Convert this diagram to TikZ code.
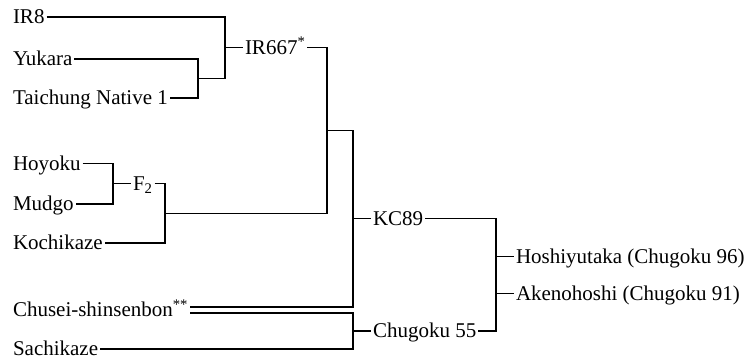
\documentclass[tikz,border=0pt]{standalone}
\usepackage{fontspec}
\setmainfont{Liberation Serif}
\usetikzlibrary{positioning}

\begin{document}
\begin{tikzpicture}[
    x=1pt, y=-1pt,
    node distance=18pt,
    line width=1.3pt,
    every node/.style={inner xsep=2pt, inner ysep=0pt, outer sep=0pt, text height=13.9pt, text depth=0pt, font=\fontsize{21}{25}\selectfont},
    leaf/.style={anchor=west}
  ]
    \useasboundingbox (0,0) rectangle (756,363);

    % parents
    \node[leaf] (ir8) at (11,17) {IR8};
    \node[leaf] (yukara) at (11,59) {Yukara};
    \node[leaf] (tn1) at (11,98) {Taichung Native 1};
    \node[leaf] (hoyoku) at (11,163.5) {Hoyoku};
    \node[leaf] (mudgo) at (11,204) {Mudgo};
    \node[leaf] (kochikaze) at (11,243) {Kochikaze};
    \node[leaf] (chusei) at (11,310) {Chusei-shinsenbon\textsuperscript{**}};
    \node[leaf] (sachikaze) at (11,349) {Sachikaze};

    % crossing points
    \coordinate (j1) at (198,78.5);
    \coordinate (j2) at (225,47.5);
    \coordinate (j3) at (113,183.5);
    \coordinate (j4) at (165,213.5);
    \coordinate (j5) at (327,130.5);
    \coordinate (j6) at (353,218.8);
    \coordinate (j7) at (353,331);
    \coordinate (j8) at (496,275);
    \coordinate (h1) at (496,256.3);
    \coordinate (h2) at (496,293.7);

    % progeny
    \node[right=of j2] (ir667) {IR667\textsuperscript{*}};
    \node[right=of j3] (f2) {F\textsubscript{2}};
    \node[right=of j6] (kc89) {KC89};
    \node[right=of j7] (cg55) {Chugoku 55};
    \node[right=of h1] (hoshi) {Hoshiyutaka (Chugoku 96)};
    \node[right=of h2] (akeno) {Akenohoshi (Chugoku 91)};

    \draw (yukara.east) -| (j1) |- (tn1.east);
    \draw (ir8.east) -| (j2) |- (j1);
    \draw (j2) -- (ir667.west);
    \draw (hoyoku.east) -| (j3) |- (mudgo.east);
    \draw (j3) -- (f2.west);
    \draw (f2.east) -| (j4) |- (kochikaze.east);
    \draw (ir667.east) -| (j5) |- (j4);
    \draw (j5) -| (j6) |- ([yshift=3pt]chusei.east);
    \draw (j6) -- (kc89.west);
    \draw ([yshift=-3pt]chusei.east) -| (j7) |- (sachikaze.east);
    \draw (j7) -- (cg55.west);
    \draw (kc89.east) -| (j8) |- (cg55.east);
    \draw (h1) -- (hoshi.west);
    \draw (h2) -- (akeno.west);
  \end{tikzpicture}
\end{document}
